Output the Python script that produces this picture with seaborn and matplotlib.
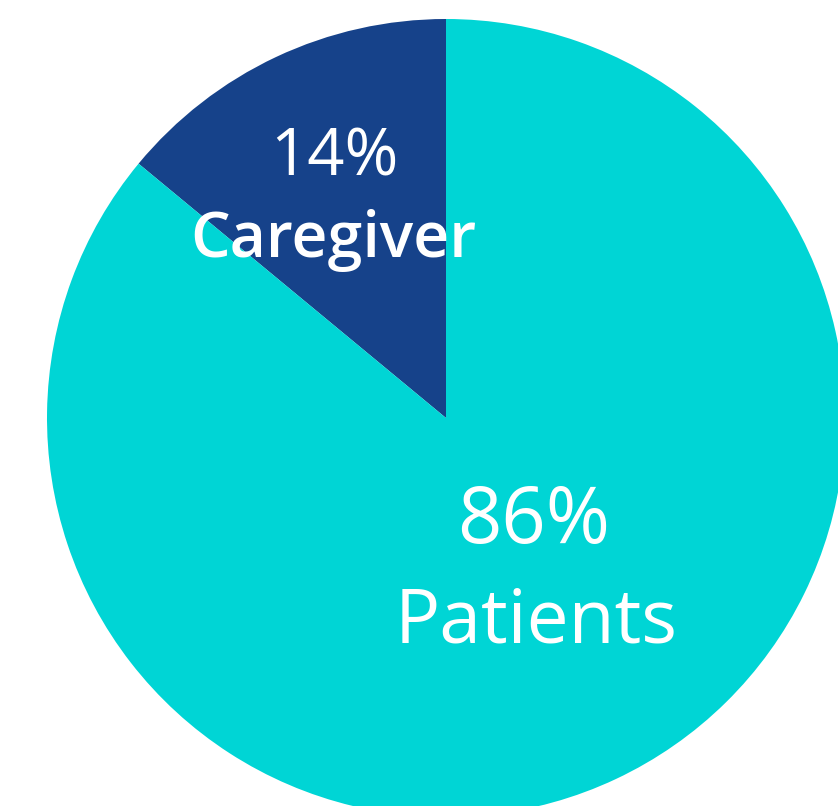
import matplotlib.pyplot as plt
import seaborn as sns

# Chart data
groups = ["Caregiver", "Patients"]
shares = [14, 86]
colors = ["#16428A", "#00D5D5"]

sns.set_theme(style="white")
plt.rcParams["font.family"] = ["Open Sans", "DejaVu Sans"]


def draw_pie():
    fig = plt.figure(figsize=(8.38, 8.06), dpi=100)
    ax = fig.add_axes([0, 0, 1, 1])

    # pie in pixel-like coordinates so it can run past the figure edge
    wedges, _ = ax.pie(shares, colors=colors, startangle=90, counterclock=True,
                       center=(446, 388), radius=399,
                       wedgeprops={"linewidth": 0, "antialiased": True})

    # labels: percentage on one line, group name below
    ax.text(334, 648, f"{shares[0]}%", color="white", fontsize=47,
            ha="center", va="center", fontweight="medium")
    ax.text(333, 566, groups[0], color="white", fontsize=45,
            ha="center", va="center", fontweight="semibold")
    ax.text(534, 283, f"{shares[1]}%", color="white", fontsize=56,
            ha="center", va="center")
    ax.text(536, 183, groups[1], color="white", fontsize=54,
            ha="center", va="center")

    ax.set_xlim(0, 838)
    ax.set_ylim(0, 806)
    ax.set_aspect("equal")
    ax.axis("off")
    fig.savefig("out.png", dpi=100, facecolor="white")


if __name__ == "__main__":
    draw_pie()
